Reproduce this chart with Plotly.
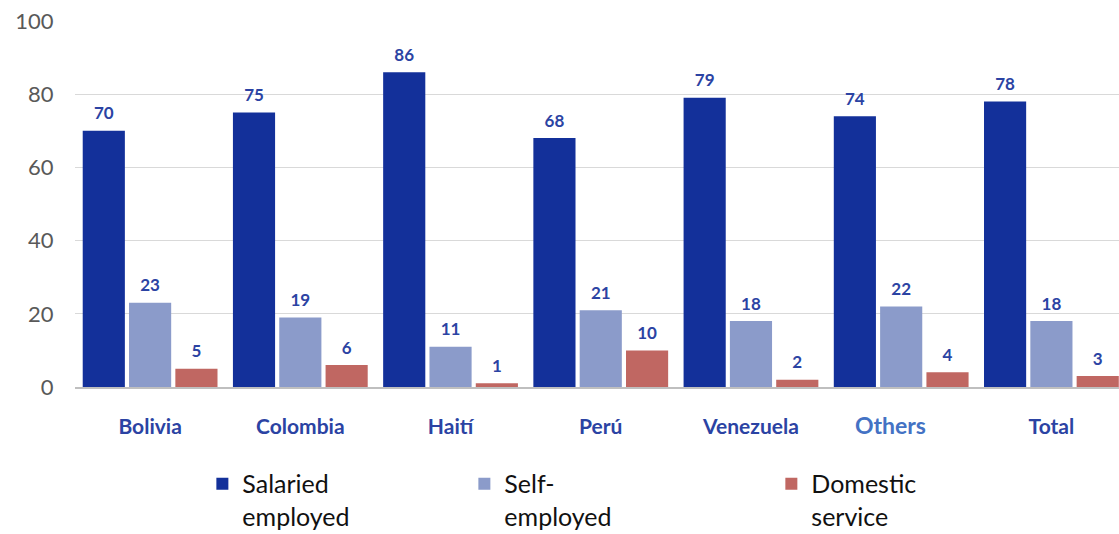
import plotly.graph_objects as go

# Employment category shares (%) by country of origin
countries = ["Bolivia", "Colombia", "Haití", "Perú", "Venezuela", "Others", "Total"]
salaried = [70, 75, 86, 68, 79, 74, 78]
self_employed = [23, 19, 11, 21, 18, 22, 18]
domestic = [5, 6, 1, 10, 2, 4, 3]
y_ticks = [0, 20, 40, 60, 80, 100]

FONT = "Lato, 'Open Sans', sans-serif"
LABEL_BLUE = "#2B43A3"

x_idx = list(range(len(countries)))
tick_text = []
for c in countries:
    if c == "Others":
        tick_text.append('<span style="font-size:23px;color:#4472C4;"><b>Others</b></span>&nbsp;&nbsp;&nbsp;&nbsp;')
    else:
        tick_text.append(f"<b>{c}</b>")

series = [
    ("Salaried<br>employed", salaried, "#13309A", "legend", "g1"),
    ("Self-<br>employed", self_employed, "#8B9BCA", "legend", "g2"),
    ("Domestic<br>service", domestic, "#C06762", "legend2", "g3"),
]

fig = go.Figure()
for name, vals, color, leg, grp in series:
    fig.add_trace(go.Bar(
        x=x_idx, y=vals, name=name,
        marker=dict(color=color, line=dict(width=0)),
        offsetgroup=grp, alignmentgroup="all",
        legend=leg,
    ))
# Value labels above each bar, placed in the same offset groups as the bars
for name, vals, color, leg, grp in series:
    fig.add_trace(go.Scatter(
        x=x_idx, y=vals, mode="markers+text",
        marker=dict(size=10, color="rgba(0,0,0,0)"),
        text=[f"<b>{v}</b>" for v in vals], textposition="top center",
        textfont=dict(family=FONT, size=17, color=LABEL_BLUE),
        offsetgroup=grp, alignmentgroup="all",
        showlegend=False, hoverinfo="skip", cliponaxis=False,
    ))

fig.update_layout(
    width=1119, height=534,
    margin=dict(l=75, r=0, t=21, b=147, autoexpand=False),
    paper_bgcolor="white", plot_bgcolor="white",
    barmode="group", bargap=0.075, bargroupgap=0.09,
    scattermode="group", scattergap=0.075,
    font=dict(family=FONT),
    showlegend=True,
    legend=dict(
        orientation="h", x=0.122, xanchor="left", y=-0.202, yanchor="top",
        entrywidth=217, entrywidthmode="pixels", valign="top",
        font=dict(family=FONT, size=25, color="#111111"),
        bgcolor="rgba(0,0,0,0)",
    ),
    legend2=dict(
        orientation="h", x=0.667, xanchor="left", y=-0.202, yanchor="top",
        valign="top",
        font=dict(family=FONT, size=25, color="#111111"),
        bgcolor="rgba(0,0,0,0)",
    ),
    xaxis=dict(
        tickmode="array", tickvals=x_idx, ticktext=tick_text,
        range=[-0.5, 6.45],
        tickfont=dict(family=FONT, size=21, color=LABEL_BLUE),
        ticks="outside", ticklen=20, tickcolor="rgba(0,0,0,0)",
        showline=True, linecolor="#BFBFBF", linewidth=1.5,
        showgrid=False, zeroline=False,
    ),
    yaxis=dict(
        range=[0, 100], tickvals=y_ticks,
        tickfont=dict(family=FONT, size=22, color="#595959"),
        showgrid=True, gridcolor="#D9D9D9", gridwidth=1,
        zeroline=False, showline=False,
        ticks="outside", ticklen=16, tickcolor="rgba(0,0,0,0)",
    ),
)

fig.write_html("out.html")
